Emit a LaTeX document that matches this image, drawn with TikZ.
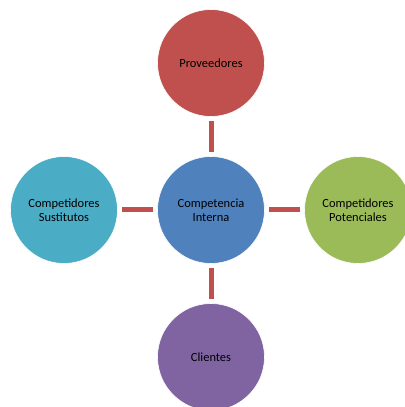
\documentclass[tikz,border=0pt]{standalone}
\usepackage{fontspec}
\setmainfont{Carlito}
\usepackage{xcolor}
\usetikzlibrary{positioning}
\definecolor{rojo}{HTML}{C0504D}
\definecolor{azul}{HTML}{4F81BD}
\definecolor{turquesa}{HTML}{4BACC6}
\definecolor{verde}{HTML}{9BBB59}
\definecolor{morado}{HTML}{8064A2}
\tikzset{fuerza/.style={circle,minimum size=107bp,inner sep=0pt,draw=white,line width=0.6bp,
    align=center,font=\fontsize{12.5}{14.5}\selectfont},
  enlace/.style={draw=rojo,line width=5bp,shorten >=4.5bp,shorten <=4.5bp}}
\begin{document}
\begin{tikzpicture}[x=1bp,y=1bp,node distance=147bp,on grid]
		\useasboundingbox (0,0) rectangle (405,407);
		\clip (0,0) rectangle (405,407);
		\node[fuerza,fill=azul] (c_0) at (211,197) {Competencia\\Interna};
		\node[fuerza,fill=rojo] (c_1) [above=of c_0] {Proveedores};
		\node[fuerza,fill=verde] (c_2) [right=of c_0] {Competidores\\Potenciales};
		\node[fuerza,fill=morado] (c_3) [below=of c_0] {Clientes};
		\node[fuerza,fill=turquesa] (c_4) [left=of c_0] {Competidores\\Sustitutos};
		%\node[fuerza] (c_5) [above right=of c_0] {};
		\path
		(c_1) edge [enlace] (c_0)
		(c_0) edge [enlace] (c_2)
		(c_0) edge [enlace] (c_3)
		(c_4) edge [enlace] (c_0);
		\end{tikzpicture}
\end{document}
